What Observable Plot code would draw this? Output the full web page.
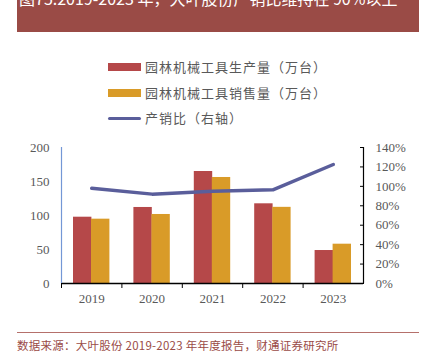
<!DOCTYPE html>
<html><head><meta charset="utf-8">
<script src="https://cdn.jsdelivr.net/npm/d3@7"></script>
<script src="https://cdn.jsdelivr.net/npm/@observablehq/plot@0.6"></script>
<style>
body{margin:0;background:#fff;}
#wrap{position:relative;width:422px;height:353px;overflow:hidden;font-family:"Noto Sans CJK SC",sans-serif;}
#titlebar{position:absolute;left:17px;top:0;width:402px;height:32px;background:#9a4b46;}
#title{position:absolute;left:19px;top:-10px;color:#fff;font-size:16px;line-height:16px;white-space:nowrap;}
#chart{position:absolute;left:0;top:0;}
#legend{position:absolute;left:108px;top:58px;color:#595959;font-size:13px;letter-spacing:1px;}
.row{position:absolute;left:0;height:18px;white-space:nowrap;}
.sw{position:absolute;left:0;width:33px;}
.lab{position:absolute;left:37px;top:0;line-height:18px;}
#footline{position:absolute;left:17px;top:332px;width:402px;height:1px;background:#b5706b;}
#footer{position:absolute;left:17px;top:337px;color:#9a4b46;font-size:11.5px;letter-spacing:0.25px;line-height:16px;white-space:nowrap;}
</style></head><body>
<div id="wrap">
  <div id="titlebar"></div>
  <div id="title"></div>
  <div id="chart"></div>
  <div id="legend"></div>
  <div id="footline"></div>
  <div id="footer"></div>
</div>
<script>
const titleText = "图75.2019-2023 年，大叶股份产销比维持在 90%以上";
const sourceText = "数据来源：大叶股份 2019-2023 年年度报告，财通证券研究所";
const years = ["2019", "2020", "2021", "2022", "2023"];
const production = [97.5, 111.8, 164.7, 117.2, 48.5];
const sales = [94.6, 101.5, 155.9, 112.0, 57.8];
const ratio = [98.0, 92.0, 95.0, 96.4, 122.5];
const seriesNames = ["园林机械工具生产量（万台）", "园林机械工具销售量（万台）", "产销比（右轴）"];
const leftTicks = [0, 50, 100, 150, 200];
const rightTicks = [0, 20, 40, 60, 80, 100, 120, 140];

const colors = ["#b54849", "#d99b28", "#5a5e9b"];
const W = 422, H = 353, mL = 61, mR = 59, mT = 147, mB = 70;
const bw = (W - mL - mR) / years.length;
const toLeft = v => v * 200 / 140;
const rows = years.map((y, i) => ({year: y, production: production[i], sales: sales[i], ratio: ratio[i]}));

document.getElementById("title").textContent = titleText;
document.getElementById("footer").textContent = sourceText;

const legend = document.getElementById("legend");
seriesNames.forEach((name, i) => {
  const r = document.createElement("div");
  r.className = "row";
  r.style.top = (i * 25.5) + "px";
  const sw = document.createElement("div");
  sw.className = "sw";
  sw.style.background = colors[i];
  if (i < 2) { sw.style.top = "5px"; sw.style.height = "8px"; }
  else { sw.style.top = "7.5px"; sw.style.height = "3.5px"; sw.style.borderRadius = "2px"; }
  const lab = document.createElement("div");
  lab.className = "lab";
  lab.textContent = name;
  r.appendChild(sw); r.appendChild(lab);
  legend.appendChild(r);
});

const chart = Plot.plot({
  width: W, height: H,
  marginLeft: mL, marginRight: mR, marginTop: mT, marginBottom: mB,
  x: {type: "band", domain: years, padding: 0, round: false},
  y: {domain: [0, 200]},
  style: {fontFamily: "'Liberation Serif', 'Times New Roman', serif", fontSize: "13px", color: "#595959", background: "transparent", overflow: "visible"},
  marks: [
    Plot.barY(rows, {x: "year", y: "production", fill: colors[0], insetLeft: 12, insetRight: 30}),
    Plot.barY(rows, {x: "year", y: "sales", fill: colors[1], insetLeft: 30, insetRight: 12}),
    Plot.line(rows, {x: "year", y: d => toLeft(d.ratio), stroke: colors[2], strokeWidth: 3.5, strokeLinecap: "round", strokeLinejoin: "round"}),
    Plot.ruleY([0], {stroke: "#000", strokeWidth: 1.3}),
    Plot.ruleX([years[0]], {x: d => d, y1: 0, y2: 200, dx: -bw / 2, stroke: "#7497d6", strokeWidth: 1.2}),
    Plot.ruleX([years[years.length - 1]], {x: d => d, y1: 0, y2: 200, dx: bw / 2, stroke: "#000", strokeWidth: 1.2}),
    Plot.axisY(leftTicks, {anchor: "left", tickSize: 0, tickPadding: 12, label: null}),
    Plot.axisY(rightTicks.map(toLeft), {anchor: "right", tickSize: -4, tickPadding: 16, stroke: "#000", tickFormat: d => Math.round(d * 140 / 200) + "%", label: null}),
    Plot.axisX(years, {tickSize: 0, tickPadding: 10, label: null}),
    Plot.axisX(years, {tickSize: 5, tickFormat: () => "", dx: -bw / 2, stroke: "#000", label: null})
  ]
});
document.getElementById("chart").appendChild(chart);
</script>
</body></html>
